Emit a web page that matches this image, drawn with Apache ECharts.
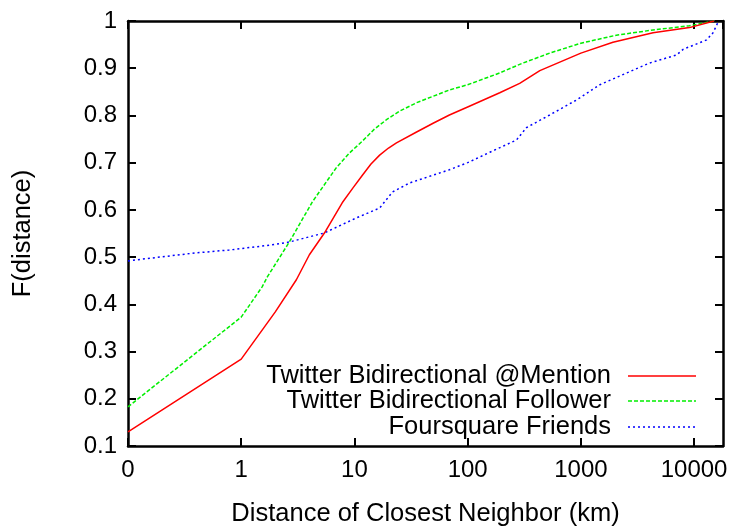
<!DOCTYPE html>
<html>
<head>
<meta charset="utf-8">
<script src="https://cdn.jsdelivr.net/npm/echarts@6/dist/echarts.min.js"></script>
<style>
  html, body { margin: 0; padding: 0; background: #ffffff; }
  #chart { width: 730px; height: 527px; }
</style>
</head>
<body>
<div id="chart"></div>
<script>
// A distance of 0 km is placed one decade below 1 km, where the "0" tick sits.
const ZERO_KM = 0.1;
const X_MAX_KM = 18000;

// Twitter Bidirectional @Mention
const mentionKm  = [ZERO_KM, 1, 2, 3.07, 4, 5.43, 7.8, 9.6, 11.8, 14, 16.7, 20, 23.5, 35.4, 50, 69, 100, 192, 288, 434, 1000, 1920, 4340, 9100, 15000];
const mentionCdf = [0.13, 0.284, 0.384, 0.452, 0.505, 0.551, 0.615, 0.645, 0.674, 0.697, 0.716, 0.731, 0.742, 0.765, 0.784, 0.801, 0.818, 0.848, 0.868, 0.895, 0.932, 0.955, 0.975, 0.986, 1.0];

// Twitter Bidirectional Follower
const followerKm  = [ZERO_KM, 1, 1.53, 1.7, 2.66, 4.25, 6.9, 9, 11.8, 15, 19.2, 25, 35.4, 69, 100, 192, 300, 530, 1000, 2060, 4340, 9100, 15000];
const followerCdf = [0.183, 0.373, 0.437, 0.458, 0.532, 0.617, 0.689, 0.72, 0.746, 0.771, 0.791, 0.809, 0.827, 0.854, 0.865, 0.89, 0.91, 0.932, 0.953, 0.97, 0.981, 0.99, 1.0];

// Foursquare Friends
const friendsKm  = [ZERO_KM, 0.19, 0.4, 0.78, 1.88, 2.66, 5.4, 10.4, 16.7, 21.7, 30.7, 69, 100, 157, 270, 330, 530, 920, 1470, 2540, 4030, 7000, 8000, 12900, 14700, 16300];
const friendsCdf = [0.492, 0.5, 0.509, 0.515, 0.526, 0.532, 0.551, 0.583, 0.604, 0.638, 0.657, 0.685, 0.7, 0.722, 0.748, 0.774, 0.801, 0.833, 0.865, 0.89, 0.911, 0.928, 0.94, 0.96, 0.975, 0.998];

// Axis tick labels
const xTickLabels = { 0.1: '0', 1: '1', 10: '10', 100: '100', 1000: '1000', 10000: '10000' };
const yMin = 0.1, yMax = 1, yStep = 0.1;

const seriesNames = ['Twitter Bidirectional @Mention', 'Twitter Bidirectional Follower', 'Foursquare Friends'];
const seriesColors = ['#ff0000', '#00ee00', '#0000ff'];
const seriesDash = ['solid', [4, 2], [2, 3]];

const pair = (xs, ys) => xs.map((x, i) => [x, ys[i]]);
const seriesData = [pair(mentionKm, mentionCdf), pair(followerKm, followerCdf), pair(friendsKm, friendsCdf)];

const FONT = 'Liberation Sans, Arial, Helvetica, sans-serif';
const chart = echarts.init(document.getElementById('chart'), null, { renderer: 'canvas' });

// Fixed plot box; axis labels and names sit outside it without shrinking it
const grid = { left: 128, right: 7, top: 21, bottom: 81, containLabel: false, outerBoundsMode: 'none' };
const axisLine = { show: true, lineStyle: { color: '#000', width: 2.5 } };
const axisTick = { show: true, inside: true, length: 8, lineStyle: { color: '#000', width: 2 } };
const xLabel = (v) => {
  const key = Math.round(v * 10) / 10;
  return xTickLabels[key] !== undefined ? xTickLabels[key] : '';
};

// Legend drawn as right-aligned text with a line sample on its right
const legendRight = 611, lineX1 = 628, lineX2 = 696;
const legendRows = [376, 401, 427];
const legendGraphics = [];
seriesNames.forEach((name, i) => {
  legendGraphics.push({
    type: 'text', x: legendRight, y: legendRows[i],
    style: { text: name, textAlign: 'right', textVerticalAlign: 'middle', font: '25.5px ' + FONT, fill: '#000' }
  });
  legendGraphics.push({
    type: 'line', shape: { x1: lineX1, y1: legendRows[i], x2: lineX2, y2: legendRows[i] },
    style: { stroke: seriesColors[i], lineWidth: 1.5, lineDash: seriesDash[i] === 'solid' ? null : seriesDash[i] }
  });
});

chart.setOption({
  animation: false,
  backgroundColor: '#ffffff',
  grid: grid,
  xAxis: [
    {
      type: 'log', logBase: 10, min: ZERO_KM, max: X_MAX_KM, position: 'bottom',
      name: 'Distance of Closest Neighbor (km)', nameLocation: 'middle', nameGap: 55,
      nameTextStyle: { fontFamily: FONT, fontSize: 25.5, color: '#000' },
      axisLine: axisLine, axisTick: axisTick, splitLine: { show: false }, minorTick: { show: false },
      axisLabel: { formatter: xLabel, fontFamily: FONT, fontSize: 24, color: '#000', margin: 12, showMaxLabel: false }
    },
    {
      type: 'log', logBase: 10, min: ZERO_KM, max: X_MAX_KM, position: 'top',
      axisLine: axisLine, axisTick: axisTick, splitLine: { show: false },
      axisLabel: { show: false }
    }
  ],
  yAxis: [
    {
      type: 'value', min: yMin, max: yMax, interval: yStep, position: 'left',
      name: 'F(distance)', nameLocation: 'middle', nameGap: 92, nameRotate: 90,
      nameTextStyle: { fontFamily: FONT, fontSize: 25.5, color: '#000' },
      axisLine: axisLine, axisTick: axisTick, splitLine: { show: false },
      axisLabel: {
        formatter: (v) => String(Math.round(v * 10) / 10),
        fontFamily: FONT, fontSize: 24, color: '#000', margin: 11
      }
    },
    {
      type: 'value', min: yMin, max: yMax, interval: yStep, position: 'right',
      axisLine: axisLine, axisTick: axisTick, splitLine: { show: false },
      axisLabel: { show: false }
    }
  ],
  series: seriesNames.map((name, i) => ({
    name: name, type: 'line', xAxisIndex: 0, yAxisIndex: 0,
    data: seriesData[i], showSymbol: false, symbol: 'none', smooth: false,
    lineStyle: { color: seriesColors[i], width: 1.5, type: seriesDash[i] },
    z: 3 - i
  })),
  graphic: legendGraphics
});
</script>
</body>
</html>
